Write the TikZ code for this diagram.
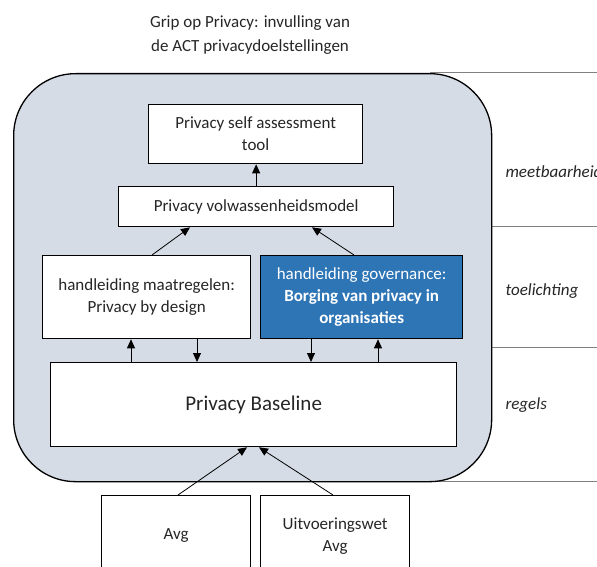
\documentclass[tikz,border=0pt]{standalone}
\usepackage{fontspec}
\setmainfont{Carlito}
\usetikzlibrary{arrows.meta}
\definecolor{panel}{HTML}{D6DCE5}
\definecolor{govblue}{HTML}{2E75B6}
\definecolor{rulegray}{HTML}{808080}
\definecolor{ink}{HTML}{262626}

\begin{document}
\begin{tikzpicture}[x=1pt,y=-1pt,
  box/.style={draw=black, line width=1.3pt, fill=white, rectangle,
    anchor=north west, inner sep=0pt, align=center,
    font=\fontsize{17}{22}\selectfont, text=ink},
  arr/.style={draw=black, line width=0.8pt, -{Triangle[length=9pt,width=8pt]}},
  sep/.style={draw=rulegray, line width=1pt},
  lbl/.style={anchor=base west, font=\fontsize{17}{22}\selectfont\itshape, text=ink}]

\useasboundingbox (0,0) rectangle (597,567);
\clip (0,0) rectangle (597,567);

% title
\node[align=center, font=\fontsize{17}{24}\selectfont, text=ink] (title) at (250,35)
  {Grip op Privacy: invulling van\\de ACT privacydoelstellingen};

% layer separators on the right
\draw[sep] (430,73) -- (597,73);
\draw[sep] (491,226) -- (597,226);
\draw[sep] (491,347) -- (597,347);
\draw[sep] (430,481) -- (597,481);

% framework panel
\node[draw=black, line width=1.3pt, fill=panel, rounded corners=62pt,
  minimum width=478pt, minimum height=408pt, anchor=north west, inner sep=0pt]
  (frame) at (13,73) {};

% layer labels
\node[lbl] (lmeet) at (502,178) {meetbaarheid};
\node[lbl] (ltoel) at (502,295) {toelichting};
\node[lbl] (lreg)  at (502,409) {regels};

% boxes
\node[box, minimum width=214pt, minimum height=59pt] (self) at (148,104)
  {Privacy self assessment\\tool};
\node[box, minimum width=275pt, minimum height=40pt] (vol) at (118,186)
  {Privacy volwassenheidsmodel};
\node[box, minimum width=208pt, minimum height=83pt] (maat) at (42,255)
  {handleiding maatregelen:\\Privacy by design};
\node[box, fill=govblue, text=white, minimum width=202pt, minimum height=83pt] (gov) at (260,255)
  {handleiding governance:\\\textbf{Borging van privacy in}\\\textbf{organisaties}};
\node[box, minimum width=406pt, minimum height=84pt, font=\fontsize{21}{25}\selectfont] (base) at (50,362)
  {Privacy Baseline};
\node[box, minimum width=149pt, minimum height=80pt] (avg) at (101,495)
  {Avg};
\node[box, minimum width=149pt, minimum height=80pt] (uitv) at (260,495)
  {Uitvoeringswet\\Avg};

% connectors
\draw[arr] (vol.north) -- (vol.north |- self.south);
\draw[arr] ([xshift=110pt]maat.north west) -- ([xshift=72pt]vol.south west);
\draw[arr] ([xshift=94pt]gov.north west) -- ([xshift=194pt]vol.south west);
\draw[arr] ([xshift=81pt]base.north west) -- ([xshift=89pt]maat.south west);
\draw[arr] ([xshift=155pt]maat.south west) -- ([xshift=147pt]base.north west);
\draw[arr] ([xshift=51pt]gov.south west) -- ([xshift=261pt]base.north west);
\draw[arr] ([xshift=328pt]base.north west) -- ([xshift=118pt]gov.south west);
\draw[arr] ([xshift=77pt]avg.north west) -- ([xshift=197pt]base.south west);
\draw[arr] ([xshift=73pt]uitv.north west) -- ([xshift=209pt]base.south west);
\end{tikzpicture}
\end{document}
